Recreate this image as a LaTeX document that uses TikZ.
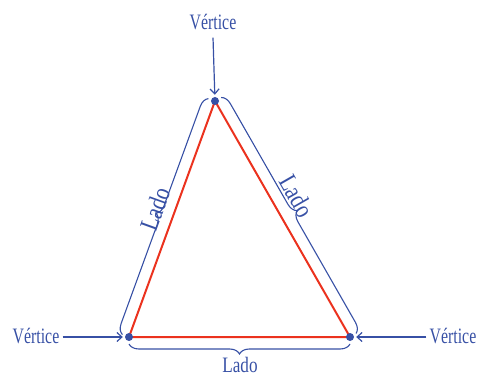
\documentclass[tikz,border=0pt]{standalone}
\usepackage{fontspec}
\setmainfont{Liberation Serif}
\usetikzlibrary{decorations.pathreplacing,arrows.meta}
\definecolor{myblue}{RGB}{55,80,165}
\definecolor{myred}{RGB}{235,50,30}
\newcommand\condtxt[2][0.72]{\scalebox{#1}[1]{#2}}
\tikzset{
  lbl/.style={text=myblue,font=\fontsize{22}{24}\selectfont,inner sep=3pt},
  biglbl/.style={text=myblue,font=\fontsize{26}{28}\selectfont,inner sep=1pt},
  vdot/.style={circle,fill=myblue,inner sep=0pt,minimum size=8pt},
  brc/.style={draw=myblue,line width=1.1pt,decorate,decoration={brace,amplitude=10pt,raise=7pt}},
  arr/.style={draw=myblue,line width=1.2pt,-{Straight Barb[length=5pt,width=9pt]},shorten >=2pt},
  side/.style={draw=myred,line width=2pt}
}
\begin{document}
\begin{tikzpicture}[x=1pt,y=-1pt]
\useasboundingbox (0,0) rectangle (480,377);
\coordinate (A) at (215,101);
\coordinate (B) at (129,337);
\coordinate (C) at (350,337);
\draw[side] (A) -- (B) -- (C) -- cycle;
\node[vdot] (dA) at (A) {};
\node[vdot] (dB) at (B) {};
\node[vdot] (dC) at (C) {};
\draw[brc] (B) -- (A);
\draw[brc] (A) -- (C);
\draw[brc] (C) -- (B);
\node[lbl,anchor=base] (vt) at (213,30) {\condtxt{Vértice}};
\node[lbl,anchor=base] (vl) at (36,344) {\condtxt{Vértice}};
\node[lbl,anchor=base] (vr) at (453,344) {\condtxt{Vértice}};
\node[lbl,anchor=base] (lb) at (240,372) {\condtxt[0.78]{Lado}};
\node[biglbl,rotate=70.2] (ll) at (155,209) {\condtxt[0.82]{Lado}};
\node[biglbl,rotate=-60.2] (lr) at (297,196) {\condtxt[0.82]{Lado}};
\draw[arr] (vt.south) ++(0,4) -- (dA);
\draw[arr] (vl.east |- dB) -- (dB);
\draw[arr] (vr.west |- dC) -- (dC);
\end{tikzpicture}
\end{document}
